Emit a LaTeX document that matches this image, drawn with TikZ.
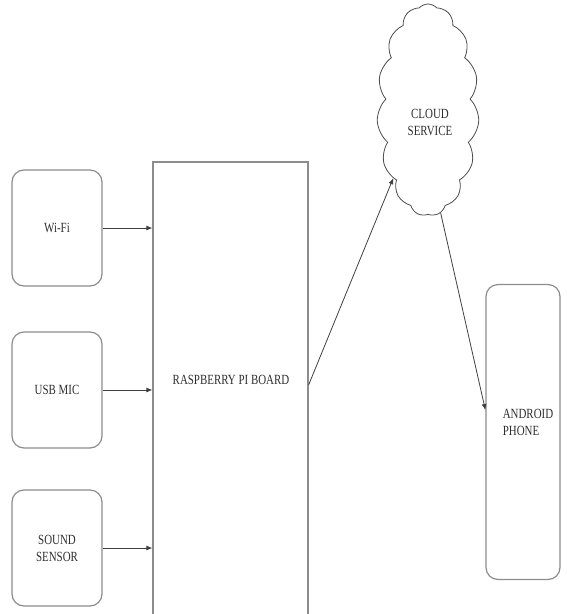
\documentclass[tikz,border=0pt]{standalone}
\usepackage{fontspec}
\newfontfamily\blockfont[FakeStretch=0.78]{Liberation Serif}
\usetikzlibrary{arrows.meta, shapes.symbols}
\definecolor{rahmen}{HTML}{8C8C8C}
\definecolor{schrift}{HTML}{2E2E2E}

\tikzset{
  block/.style={draw=rahmen, line width=1.2pt, rounded corners=12pt,
                minimum width=90pt, minimum height=116pt, inner sep=0pt,
                font=\blockfont\fontsize{14}{17}\selectfont, text=schrift, align=center},
  platine/.style={draw=rahmen, line width=1.2pt, minimum width=155pt,
                  minimum height=460pt, inner sep=0pt},
  wolke/.style={cloud, draw=black!70, line width=0.8pt, cloud puffs=15,
                cloud puff arc=95, aspect=0.48, minimum width=102pt,
                minimum height=212pt, inner sep=0pt},
  etikett/.style={font=\blockfont\fontsize{14}{17}\selectfont, text=schrift, align=left},
  pfeil/.style={draw=black!75, line width=0.8pt, -{Latex[length=6pt,width=5pt]}}
}

\begin{document}
\begin{tikzpicture}[x=1pt, y=-1pt]
      \useasboundingbox (0,0) rectangle (566,614);

      % Platine
      \node[platine] (board) at (230.5,392) {};
      \node[etikett] (boardtxt) at (231,380) {RASPBERRY PI BOARD};

      % Eingaenge
      \foreach \n/\y/\txt in {wifi/228/Wi-Fi, usb/390/USB MIC,
                              sound/548/{SOUND\\SENSOR}} {
        \node[block] (\n) at (57,\y) {\txt};
        \draw[pfeil] (\n.east) -- (\n.east -| board.west);
      }

      % Cloud und Telefon
      \node[wolke] (cloud) at (428,110) {};
      \node[etikett, align=center] (cloudtxt) at (430,122) {CLOUD\\SERVICE};
      \node[block, minimum width=74pt, minimum height=295pt] (phone) at (523,432) {};
      \node[etikett] (phonetxt) at (528,422) {ANDROID\\PHONE};

      % Verbindungen
      \draw[pfeil] ([yshift=7pt]board.east) -- (cloud.243);
      \draw[pfeil] (cloud.277) -- ([yshift=22pt]phone.west);
    \end{tikzpicture}
\end{document}
